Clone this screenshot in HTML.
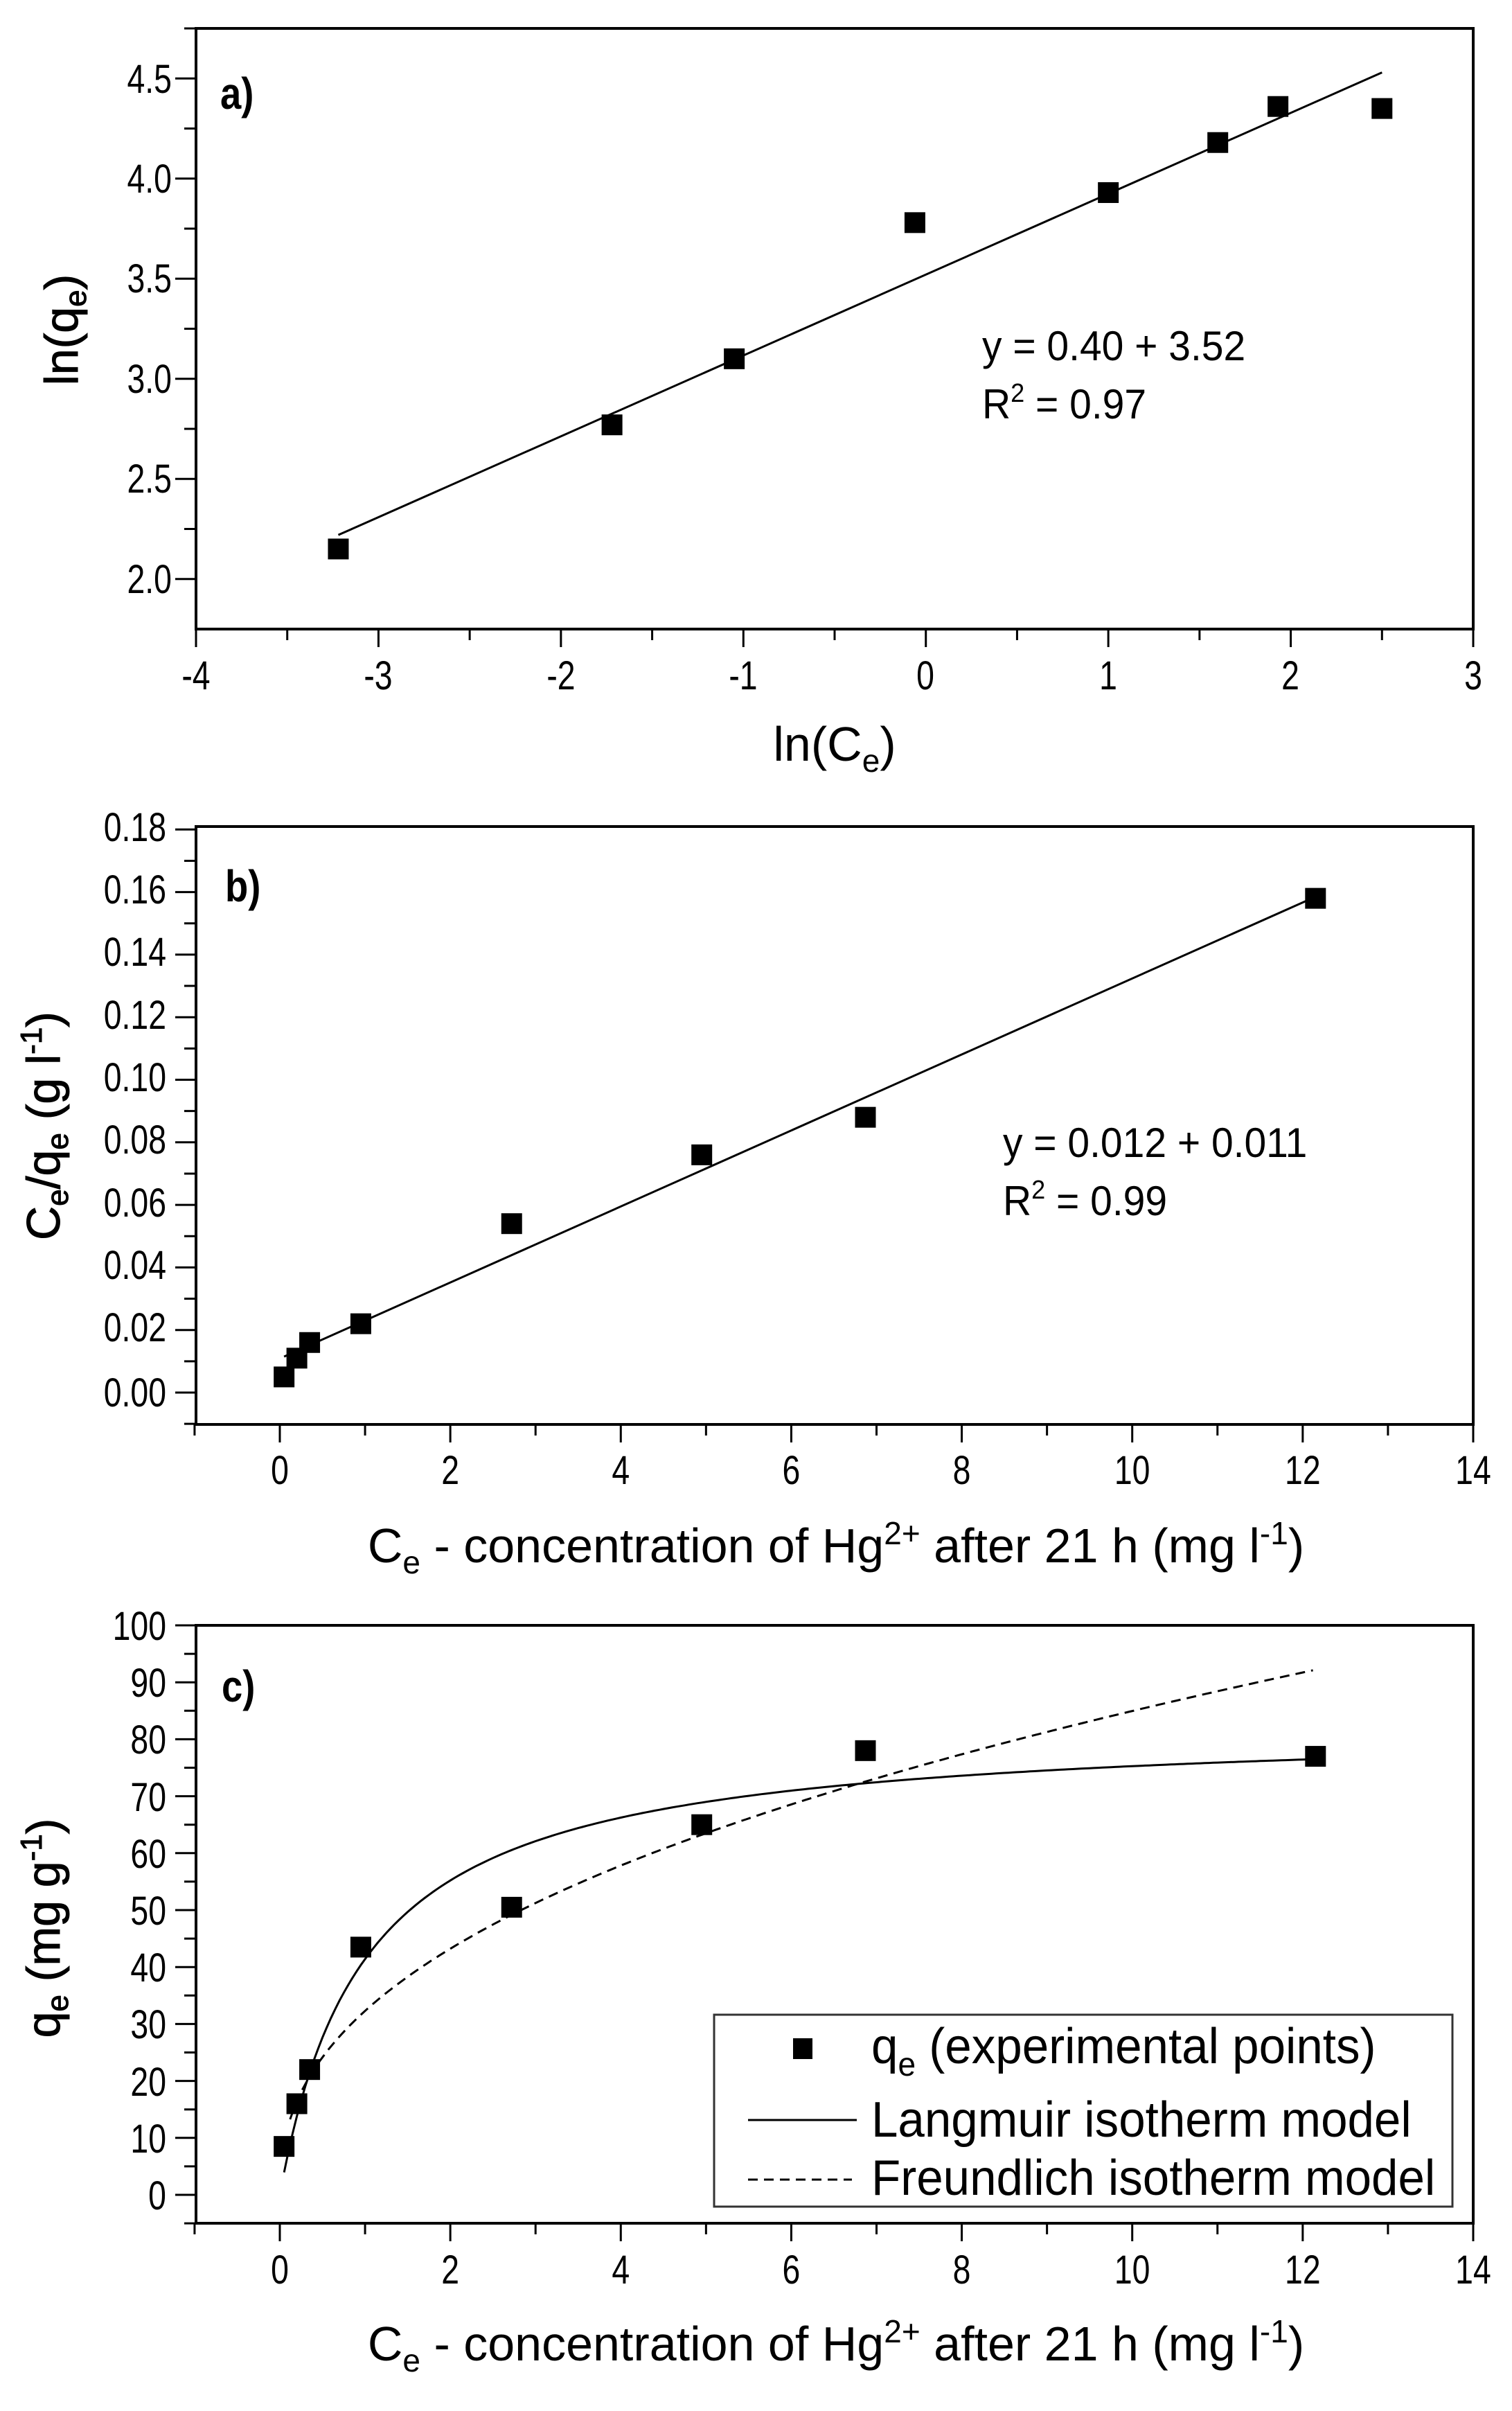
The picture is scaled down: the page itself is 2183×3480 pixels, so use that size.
<!DOCTYPE html>
<html><head><meta charset="utf-8">
<style>
html,body{margin:0;padding:0;background:#fff;}
svg{display:block;}
text{font-family:"Liberation Sans Narrow","Liberation Sans",sans-serif;fill:#000;}
.t{font-size:58px;}
.ax{font-size:70px;}
.yt{font-family:"Liberation Sans",sans-serif;font-size:68px;stroke:#000;stroke-width:1px;}
.lab{font-family:"Liberation Sans",sans-serif;font-weight:bold;font-size:64px;}
.eq{font-size:60px;}
.lg{font-size:72px;}
</style></head>
<body>
<svg id="s" width="2183" height="3480" viewBox="0 0 2183 3480" xmlns="http://www.w3.org/2000/svg">
<rect width="2183" height="3480" fill="#fff"/>
<g id="g"></g>
<!-- Panel a -->
<g class="t" text-anchor="end">
<text x="248" y="134">4.5</text><text x="248" y="278">4.0</text><text x="248" y="422">3.5</text>
<text x="248" y="567">3.0</text><text x="248" y="711">2.5</text><text x="248" y="856">2.0</text>
</g>
<g class="t" text-anchor="middle">
<text x="283" y="995">-4</text><text x="546" y="995">-3</text><text x="810" y="995">-2</text>
<text x="1073" y="995">-1</text><text x="1336" y="995">0</text><text x="1600" y="995">1</text>
<text x="1863" y="995">2</text><text x="2127" y="995">3</text>
</g>
<text class="ax" x="1205" y="1098" text-anchor="middle">ln(C<tspan font-size="46" dy="16">e</tspan><tspan dy="-16">)</tspan></text>
<text class="yt" transform="translate(112,476) rotate(-90)" text-anchor="middle">ln(q<tspan font-size="44" dy="12">e</tspan><tspan dy="-12">)</tspan></text>
<text class="lab" x="318" y="157">a)</text>
<text class="eq" x="1418" y="520">y = 0.40 + 3.52</text>
<text class="eq" x="1418" y="604">R<tspan font-size="38" dy="-24">2</tspan><tspan dy="24"> = 0.97</tspan></text>

<!-- Panel b -->
<g class="t" text-anchor="end">
<text x="240" y="1214">0.18</text><text x="240" y="1304">0.16</text><text x="240" y="1394">0.14</text>
<text x="240" y="1485">0.12</text><text x="240" y="1575">0.10</text><text x="240" y="1665">0.08</text>
<text x="240" y="1756">0.06</text><text x="240" y="1846">0.04</text><text x="240" y="1936">0.02</text>
<text x="240" y="2030">0.00</text>
</g>
<g class="t" text-anchor="middle" id="bx"></g>
<text class="ax" x="1207" y="2255" text-anchor="middle">C<tspan font-size="46" dy="16">e</tspan><tspan dy="-16"> - concentration of Hg</tspan><tspan font-size="46" dy="-26">2+</tspan><tspan dy="26"> after 21 h (mg l</tspan><tspan font-size="46" dy="-26">-1</tspan><tspan dy="26">)</tspan></text>
<text class="yt" transform="translate(86,1625) rotate(-90)" text-anchor="middle">C<tspan font-size="44" dy="12">e</tspan><tspan dy="-12">/q</tspan><tspan font-size="44" dy="12">e</tspan><tspan dy="-12"> (g l</tspan><tspan font-size="44" dy="-26">-1</tspan><tspan dy="26">)</tspan></text>
<text class="lab" x="325" y="1301">b)</text>
<text class="eq" x="1448" y="1670">y = 0.012 + 0.011</text>
<text class="eq" x="1448" y="1754">R<tspan font-size="38" dy="-24">2</tspan><tspan dy="24"> = 0.99</tspan></text>

<!-- Panel c -->
<g class="t" text-anchor="end">
<text x="240" y="2367">100</text><text x="240" y="2449">90</text><text x="240" y="2531">80</text>
<text x="240" y="2614">70</text><text x="240" y="2696">60</text><text x="240" y="2778">50</text>
<text x="240" y="2860">40</text><text x="240" y="2942">30</text><text x="240" y="3025">20</text>
<text x="240" y="3107">10</text><text x="240" y="3189">0</text>
</g>
<g class="t" text-anchor="middle" id="cx"></g>
<text class="ax" x="1207" y="3407" text-anchor="middle">C<tspan font-size="46" dy="16">e</tspan><tspan dy="-16"> - concentration of Hg</tspan><tspan font-size="46" dy="-26">2+</tspan><tspan dy="26"> after 21 h (mg l</tspan><tspan font-size="46" dy="-26">-1</tspan><tspan dy="26">)</tspan></text>
<text class="yt" transform="translate(86,2783) rotate(-90)" text-anchor="middle">q<tspan font-size="44" dy="12">e</tspan><tspan dy="-12">  (mg g</tspan><tspan font-size="44" dy="-26">-1</tspan><tspan dy="26">)</tspan></text>
<text class="lab" x="320" y="2456">c)</text>
<rect x="1031" y="2908" width="1066" height="277" fill="#fff" stroke="#333" stroke-width="3"/>
<rect x="1145" y="2942" width="28" height="30" fill="#000"/>
<line x1="1080" y1="3060" x2="1237" y2="3060" stroke="#000" stroke-width="3"/>
<line x1="1080" y1="3146" x2="1230" y2="3146" stroke="#000" stroke-width="3" stroke-dasharray="14,9"/>
<text class="lg" x="1258" y="2978">q<tspan font-size="48" dy="18">e</tspan><tspan dy="-18"> (experimental points)</tspan></text>
<text class="lg" x="1258" y="3084">Langmuir isotherm model</text>
<text class="lg" x="1258" y="3168">Freundlich isotherm model</text>
</svg>
<script>
var NS="http://www.w3.org/2000/svg",g=document.getElementById('g');
function el(n,a,p){var e=document.createElementNS(NS,n);for(var k in a)e.setAttribute(k,a[k]);(p||g).appendChild(e);return e;}
function line(x1,y1,x2,y2,w,extra){var a={x1:x1,y1:y1,x2:x2,y2:y2,stroke:'#000','stroke-width':w||4};for(var k in extra)a[k]=extra[k];el('line',a);}
function sq(x,y){el('rect',{x:x-15,y:y-15,width:30,height:30,fill:'#000'});}
function frame(L,T,R,B){el('rect',{x:L,y:T,width:R-L,height:B-T,fill:'none',stroke:'#000','stroke-width':4});}
(function(){var L=283,R=2127,T=41,B=908;
 var X=function(x){return L+(x+4)*263.43},Y=function(y){return T+(4.75-y)*289};
 frame(L,T,R,B);
 for(var v=-4;v<=3.001;v+=0.5){var maj=Math.abs(v-Math.round(v))<1e-6;line(X(v),B,X(v),B+(maj?26:16),3);}
 for(var v=2.0;v<=4.75;v+=0.25){var maj=Math.abs(v*2-Math.round(v*2))<1e-6;line(L,Y(v),L-(maj?30:17),Y(v),3);}
 line(X(-3.22),Y(2.22),X(2.5),Y(4.53),3);
 [[-3.22,2.15],[-1.72,2.77],[-1.05,3.10],[-0.06,3.78],[1.0,3.93],[1.6,4.18],[1.93,4.36],[2.5,4.35]].forEach(function(p){sq(X(p[0]),Y(p[1]));});
})();
function xaxis(T,B,gid,ly){var L=283,R=2127;var X=function(x){return 404+x*123.07};
 frame(L,T,R,B);
 for(var v=-1;v<=14;v++){line(X(v),B,X(v),B+(v%2==0?26:16),3);}
 var gg=document.getElementById(gid);
 for(var v=0;v<=14;v+=2){var t=el('text',{x:X(v),y:ly},gg);t.textContent=v;}
 return X;}
(function(){var T=1193,B=2056;var X=xaxis(T,B,'bx',2142);var Y=function(y){return 2010-y*4515};
 for(var v=-0.01;v<=0.1801;v+=0.01){var k=Math.round(v*100);line(283,Y(v),283-(k%2==0?30:17),Y(v),3);}
 line(X(0.05),Y(0.0115),X(12.15),Y(0.1585),3);
 [[0.05,0.005],[0.2,0.011],[0.35,0.016],[0.95,0.022],[2.72,0.054],[4.95,0.076],[6.87,0.088],[12.15,0.158]].forEach(function(p){sq(X(p[0]),Y(p[1]));});
})();
(function(){var T=2346,B=3209;var X=xaxis(T,B,'cx',3296);var Y=function(y){return 3168-y*8.22};
 for(var v=-5;v<=100;v+=5){line(283,Y(v),283-(v%10==0?30:17),Y(v),3);}
 var d='';for(var c=0.05;c<=12.16;c+=0.05){var q=82.8*c/(1+c);d+=(d?'L':'M')+X(c).toFixed(1)+','+Y(q).toFixed(1);}
 el('path',{d:d,fill:'none',stroke:'#000','stroke-width':3});
 d='';for(var c=0.12;c<=12.16;c+=0.05){var q=32.3*Math.pow(c,0.42);d+=(d?'L':'M')+X(c).toFixed(1)+','+Y(q).toFixed(1);}
 el('path',{d:d,fill:'none',stroke:'#000','stroke-width':3,'stroke-dasharray':'14,9'});
 [[0.05,8.5],[0.2,16],[0.35,22],[0.95,43.5],[2.72,50.5],[4.95,65],[6.87,78],[12.15,77]].forEach(function(p){sq(X(p[0]),Y(p[1]));});
})();
var sc={t:0.8,eq:0.95,lg:0.96,lab:0.85};
document.querySelectorAll('text').forEach(function(t){
 var c=t.getAttribute('class')||(t.parentNode.getAttribute&&t.parentNode.getAttribute('class'));
 if(!c||!sc[c]||t.getAttribute('transform'))return;
 var x=parseFloat(t.getAttribute('x')),s=sc[c];
 t.setAttribute('transform','translate('+(x*(1-s))+',0) scale('+s+',1)');
});
</script>
</body></html>
